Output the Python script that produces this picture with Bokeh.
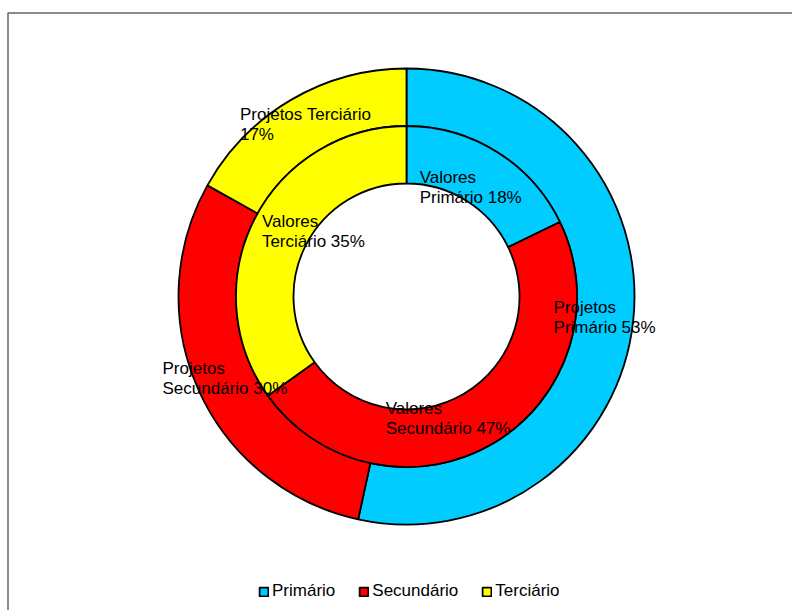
import numpy as np
from bokeh.plotting import figure
from bokeh.models import ColumnDataSource, Legend, LegendItem
from bokeh.core.properties import value
from bokeh.embed import file_html
from bokeh.resources import INLINE

# ---- data ----
categories = ["Primário", "Secundário", "Terciário"]
projetos = [53.4, 29.7, 16.9]      # outer ring (%), shown rounded
valores = [17.8, 47.3, 34.9]       # inner ring (%), shown rounded
colors = ["#00CCFF", "#FF0000", "#FFFF00"]
outer_series = "Projetos"
inner_series = "Valores"

# ---- layout ----
W, H = 792, 610
cx, cy = 406, 296
R_OUT, R_MID, R_IN = 228, 170.5, 113
FONT = "Liberation Sans"

p = figure(width=W, height=H, x_range=(-cx, W - cx), y_range=(cy - H, cy),
           output_backend="svg", toolbar_location=None, min_border=0)
p.axis.visible = False
p.grid.visible = False
p.outline_line_color = None
p.background_fill_color = "white"
p.border_fill_color = "white"

# chart-area border (only left/top edges fall inside the window)
p.quad(left=[7.5 - cx], right=[W], top=[cy - 12.5], bottom=[-H],
       fill_alpha=0, line_color="#666666", line_width=1.5)


def ring(vals):
    v = np.array(vals, float)
    frac = v / v.sum()
    cum = np.concatenate([[0.0], np.cumsum(frac)])
    start = np.pi / 2 - 2 * np.pi * cum[:-1]
    end = np.pi / 2 - 2 * np.pi * cum[1:]
    mid = np.pi * (cum[:-1] + cum[1:])  # clockwise from top
    return start, end, mid


o_start, o_end, o_mid = ring(projetos)
i_start, i_end, i_mid = ring(valores)

src_out = ColumnDataSource(dict(start=o_start, end=o_end, color=colors, cat=categories))
src_in = ColumnDataSource(dict(start=i_start, end=i_end, color=colors, cat=categories))

r_out = p.annular_wedge(x=0, y=0, inner_radius=R_MID, outer_radius=R_OUT,
                        start_angle="start", end_angle="end", direction="clock",
                        fill_color="color", line_color="black", line_width=1.8,
                        source=src_out)
r_in = p.annular_wedge(x=0, y=0, inner_radius=R_IN, outer_radius=R_MID,
                       start_angle="start", end_angle="end", direction="clock",
                       fill_color="color", line_color="black", line_width=1.8,
                       source=src_in)

# ---- data labels ----
outer_sep1 = ["\n", "\n", " "]
outer_sep2 = [" ", " ", "\n"]
outer_text = [f"{outer_series}{s1}{c}{s2}{round(v)}%" for c, v, s1, s2 in
              zip(categories, projetos, outer_sep1, outer_sep2)]
inner_text = [f"{inner_series}\n{c} {round(v)}%" for c, v in zip(categories, valores)]

r_lab_o = (R_OUT + R_MID) / 2
r_lab_i = (R_IN + R_MID) / 2
ox = r_lab_o * np.sin(o_mid)
oy = r_lab_o * np.cos(o_mid)
# inner labels are nudged like the source chart
in_dx = [-11, -31, 33]
in_dy = [-11, 0, 0]
ix = r_lab_i * np.sin(i_mid) + np.array(in_dx)
iy = r_lab_i * np.cos(i_mid) + np.array(in_dy)

lab = ColumnDataSource(dict(x=list(ox) + list(ix), y=list(oy) + list(iy),
                            text=outer_text + inner_text))
p.text(x="x", y="y", text="text", source=lab, anchor="center",
       text_align="left", text_baseline="middle",
       text_font=value(FONT), text_font_size="17px", text_color="black",
       text_line_height=1.07)

# ---- legend ----
items = [LegendItem(label=c, renderers=[r_out], index=i) for i, c in enumerate(categories)]
legend = Legend(items=items, orientation="horizontal", location=(258, 9),
                glyph_width=11, glyph_height=11, label_standoff=3, spacing=23,
                padding=0, margin=0, border_line_color=None,
                background_fill_alpha=0, label_height=20,
                label_text_font=FONT, label_text_font_size="17px",
                label_text_color="black")
p.add_layout(legend)

open("out.html", "w").write(file_html(p, INLINE))
